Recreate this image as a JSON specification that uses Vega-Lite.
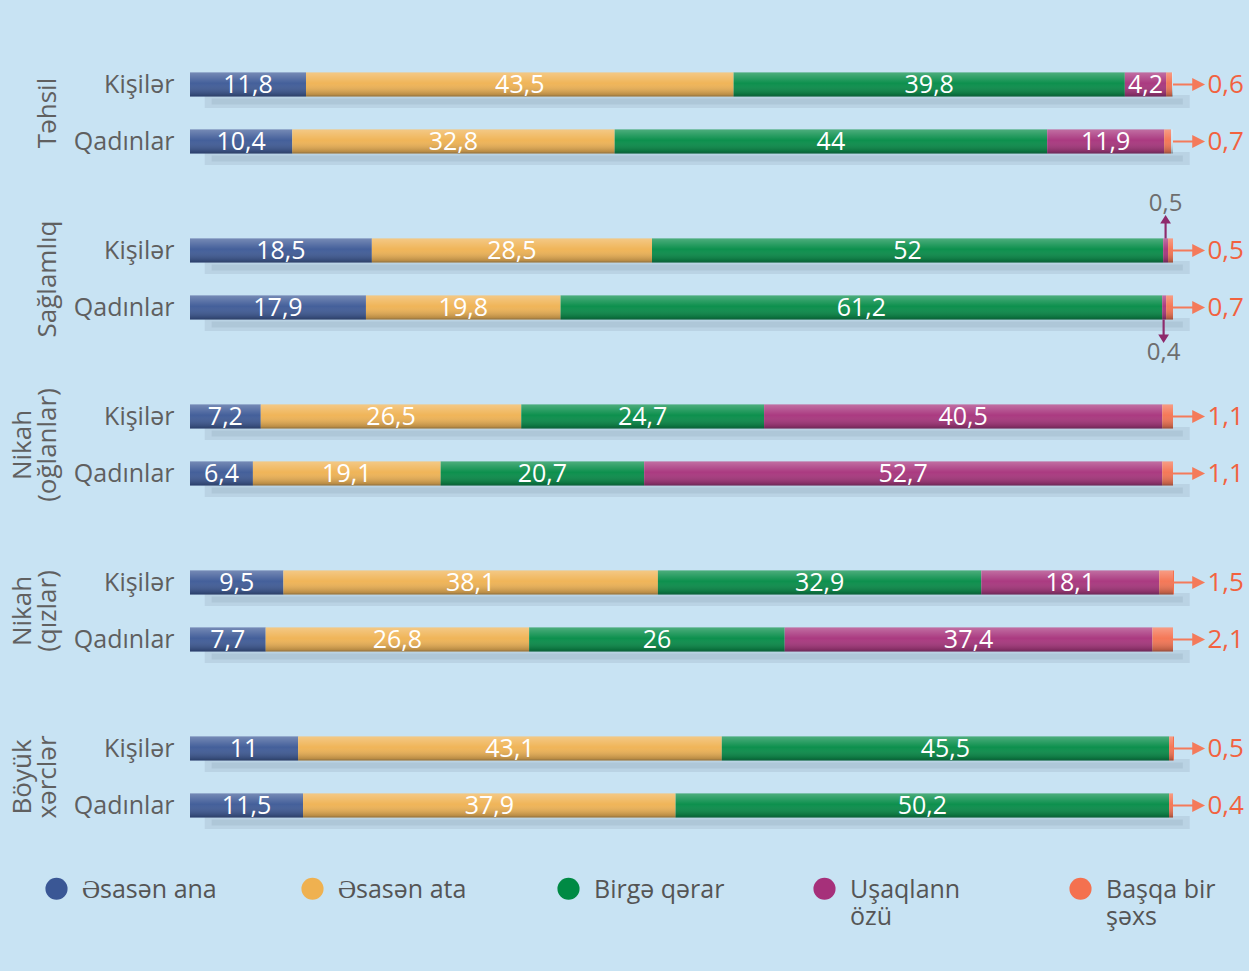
{
  "$schema": "https://vega.github.io/schema/vega-lite/v6.json",
  "background": "#c8e3f3",
  "padding": {"left": 10, "top": 56, "right": 8, "bottom": 52},
  "autosize": {"type": "pad"},
  "bounds": "flush",
  "config": {
    "locale": {"number": {"decimal": ",", "thousands": " ", "grouping": [3], "currency": ["", ""]}},
    "font": "Open Sans",
    "view": {"stroke": null}
  },
  "data": {"values": [
    {"group": "Təhsil", "gender": "Kişilər", "cat": "Əsasən ana", "value": 11.8},
    {"group": "Təhsil", "gender": "Kişilər", "cat": "Əsasən ata", "value": 43.5},
    {"group": "Təhsil", "gender": "Kişilər", "cat": "Birgə qərar", "value": 39.8},
    {"group": "Təhsil", "gender": "Kişilər", "cat": "Uşaqlann özü", "value": 4.2},
    {"group": "Təhsil", "gender": "Kişilər", "cat": "Başqa bir şəxs", "value": 0.6},
    {"group": "Təhsil", "gender": "Qadınlar", "cat": "Əsasən ana", "value": 10.4},
    {"group": "Təhsil", "gender": "Qadınlar", "cat": "Əsasən ata", "value": 32.8},
    {"group": "Təhsil", "gender": "Qadınlar", "cat": "Birgə qərar", "value": 44},
    {"group": "Təhsil", "gender": "Qadınlar", "cat": "Uşaqlann özü", "value": 11.9},
    {"group": "Təhsil", "gender": "Qadınlar", "cat": "Başqa bir şəxs", "value": 0.7},
    {"group": "Sağlamlıq", "gender": "Kişilər", "cat": "Əsasən ana", "value": 18.5},
    {"group": "Sağlamlıq", "gender": "Kişilər", "cat": "Əsasən ata", "value": 28.5},
    {"group": "Sağlamlıq", "gender": "Kişilər", "cat": "Birgə qərar", "value": 52},
    {"group": "Sağlamlıq", "gender": "Kişilər", "cat": "Uşaqlann özü", "value": 0.5},
    {"group": "Sağlamlıq", "gender": "Kişilər", "cat": "Başqa bir şəxs", "value": 0.5},
    {"group": "Sağlamlıq", "gender": "Qadınlar", "cat": "Əsasən ana", "value": 17.9},
    {"group": "Sağlamlıq", "gender": "Qadınlar", "cat": "Əsasən ata", "value": 19.8},
    {"group": "Sağlamlıq", "gender": "Qadınlar", "cat": "Birgə qərar", "value": 61.2},
    {"group": "Sağlamlıq", "gender": "Qadınlar", "cat": "Uşaqlann özü", "value": 0.4},
    {"group": "Sağlamlıq", "gender": "Qadınlar", "cat": "Başqa bir şəxs", "value": 0.7},
    {"group": "Nikah (oğlanlar)", "gender": "Kişilər", "cat": "Əsasən ana", "value": 7.2},
    {"group": "Nikah (oğlanlar)", "gender": "Kişilər", "cat": "Əsasən ata", "value": 26.5},
    {"group": "Nikah (oğlanlar)", "gender": "Kişilər", "cat": "Birgə qərar", "value": 24.7},
    {"group": "Nikah (oğlanlar)", "gender": "Kişilər", "cat": "Uşaqlann özü", "value": 40.5},
    {"group": "Nikah (oğlanlar)", "gender": "Kişilər", "cat": "Başqa bir şəxs", "value": 1.1},
    {"group": "Nikah (oğlanlar)", "gender": "Qadınlar", "cat": "Əsasən ana", "value": 6.4},
    {"group": "Nikah (oğlanlar)", "gender": "Qadınlar", "cat": "Əsasən ata", "value": 19.1},
    {"group": "Nikah (oğlanlar)", "gender": "Qadınlar", "cat": "Birgə qərar", "value": 20.7},
    {"group": "Nikah (oğlanlar)", "gender": "Qadınlar", "cat": "Uşaqlann özü", "value": 52.7},
    {"group": "Nikah (oğlanlar)", "gender": "Qadınlar", "cat": "Başqa bir şəxs", "value": 1.1},
    {"group": "Nikah (qızlar)", "gender": "Kişilər", "cat": "Əsasən ana", "value": 9.5},
    {"group": "Nikah (qızlar)", "gender": "Kişilər", "cat": "Əsasən ata", "value": 38.1},
    {"group": "Nikah (qızlar)", "gender": "Kişilər", "cat": "Birgə qərar", "value": 32.9},
    {"group": "Nikah (qızlar)", "gender": "Kişilər", "cat": "Uşaqlann özü", "value": 18.1},
    {"group": "Nikah (qızlar)", "gender": "Kişilər", "cat": "Başqa bir şəxs", "value": 1.5},
    {"group": "Nikah (qızlar)", "gender": "Qadınlar", "cat": "Əsasən ana", "value": 7.7},
    {"group": "Nikah (qızlar)", "gender": "Qadınlar", "cat": "Əsasən ata", "value": 26.8},
    {"group": "Nikah (qızlar)", "gender": "Qadınlar", "cat": "Birgə qərar", "value": 26},
    {"group": "Nikah (qızlar)", "gender": "Qadınlar", "cat": "Uşaqlann özü", "value": 37.4},
    {"group": "Nikah (qızlar)", "gender": "Qadınlar", "cat": "Başqa bir şəxs", "value": 2.1},
    {"group": "Böyük xərclər", "gender": "Kişilər", "cat": "Əsasən ana", "value": 11},
    {"group": "Böyük xərclər", "gender": "Kişilər", "cat": "Əsasən ata", "value": 43.1},
    {"group": "Böyük xərclər", "gender": "Kişilər", "cat": "Birgə qərar", "value": 45.5},
    {"group": "Böyük xərclər", "gender": "Kişilər", "cat": "Başqa bir şəxs", "value": 0.5},
    {"group": "Böyük xərclər", "gender": "Qadınlar", "cat": "Əsasən ana", "value": 11.5},
    {"group": "Böyük xərclər", "gender": "Qadınlar", "cat": "Əsasən ata", "value": 37.9},
    {"group": "Böyük xərclər", "gender": "Qadınlar", "cat": "Birgə qərar", "value": 50.2},
    {"group": "Böyük xərclər", "gender": "Qadınlar", "cat": "Başqa bir şəxs", "value": 0.4}
  ]},
  "transform": [
    {"calculate": "indexof(['Əsasən ana','Əsasən ata','Birgə qərar','Uşaqlann özü','Başqa bir şəxs'], datum.cat)", "as": "ord"}
  ],
  "facet": {
    "row": {
      "field": "group", "type": "nominal",
      "sort": ["Təhsil", "Sağlamlıq", "Nikah (oğlanlar)", "Nikah (qızlar)", "Böyük xərclər"],
      "header": {
        "title": null, "labelAngle": -90, "labelOrient": "left", "labelAlign": "center",
        "labelBaseline": "bottom", "labelFont": "Open Sans", "labelFontSize": 26,
        "labelColor": "#606060", "labelLineHeight": 25, "labelPadding": -14,
        "labelExpr": "split(datum.value, ' ')"
      }
    }
  },
  "spacing": 52,
  "spec": {
    "width": 983,
    "height": {"step": 57},
    "encoding": {
      "y": {
        "field": "gender", "type": "nominal", "sort": ["Kişilər", "Qadınlar"],
        "scale": {"paddingInner": 0, "paddingOuter": 0},
        "axis": {"title": null, "ticks": false, "domain": false, "labelFont": "Open Sans", "labelFontSize": 25, "labelColor": "#5f5f5f", "labelPadding": 16}
      }
    },
    "layer": [
      {
        "mark": {"type": "bar", "size": 24},
        "encoding": {
          "x": {"field": "value", "type": "quantitative", "stack": "zero", "scale": {"domain": [0, 100], "nice": false}, "axis": null},
          "color": {
            "field": "cat", "type": "nominal",
            "scale": {"domain": ["Əsasən ana", "Əsasən ata", "Birgə qərar", "Uşaqlann özü", "Başqa bir şəxs"],
                      "range": ["#3a5795", "#efb150", "#008a44", "#a6307a", "#f4714f"]},
            "legend": {
              "title": null, "orient": "none", "legendX": -146, "legendY": 820,
              "direction": "horizontal", "columns": 5, "gridAlign": "all", "columnPadding": 83,
              "symbolType": "circle", "symbolSize": 490, "symbolStrokeWidth": 0,
              "labelFont": "Open Sans", "labelFontSize": 25, "labelColor": "#555555",
              "labelOffset": 13, "labelLimit": 400, "labelBaseline": "alphabetic",
              "labelExpr": "datum.label == 'Uşaqlann özü' ? ['Uşaqlann', 'özü'] : datum.label == 'Başqa bir şəxs' ? ['Başqa bir', 'şəxs'] : [datum.label, '']",
              "encode": {"labels": {"update": {"dy": {"value": 9}}}}
            }
          },
          "order": {"field": "ord", "type": "quantitative"}
        }
      },
      {
        "transform": [{"filter": "datum.cat === 'Əsasən ana'"}],
        "mark": {"type": "rule", "strokeWidth": 13, "strokeCap": "butt", "color": "#5a7080", "opacity": 0.13},
        "encoding": {
          "x": {"datum": 1.5, "type": "quantitative"}, "x2": {"datum": 101.7},
          "y": {"field": "gender", "type": "nominal", "bandPosition": 0.8}
        }
      },
      {
        "transform": [{"filter": "datum.cat === 'Əsasən ana'"}],
        "mark": {"type": "rule", "strokeWidth": 6, "strokeCap": "butt", "color": "#5a7080", "opacity": 0.12},
        "encoding": {
          "x": {"datum": 2.2, "type": "quantitative"}, "x2": {"datum": 101},
          "y": {"field": "gender", "type": "nominal", "bandPosition": 0.8}
        }
      },
      {
        "transform": [{"filter": "datum.cat === 'Əsasən ana'"}],
        "mark": {"type": "bar", "size": 24, "fill": {"gradient": "linear", "x1": 0, "y1": 0, "x2": 0, "y2": 1,
          "stops": [{"offset": 0, "color": "rgba(255,255,255,0.3)"}, {"offset": 0.45, "color": "rgba(255,255,255,0.05)"}, {"offset": 1, "color": "rgba(0,0,0,0.3)"}]}},
        "encoding": {"x": {"datum": 0, "type": "quantitative"}, "x2": {"datum": 100}}
      },
      {
        "mark": {"type": "text", "color": "white", "fontSize": 25, "font": "Open Sans", "baseline": "middle", "align": "center"},
        "encoding": {
          "x": {"field": "value", "type": "quantitative", "stack": "zero", "bandPosition": 0.5},
          "detail": {"field": "cat"},
          "order": {"field": "ord", "type": "quantitative"},
          "text": {"field": "value", "type": "quantitative", "format": "~g",
                   "condition": {"test": "datum.cat === 'Başqa bir şəxs' || datum.value < 1", "value": ""}}
        }
      },
      {
        "transform": [{"filter": "datum.cat === 'Başqa bir şəxs'"}],
        "mark": {"type": "point", "filled": true, "opacity": 1, "size": 1024, "color": "#f47a5a",
                 "shape": "M-1,-0.07L0.2,-0.07L0.2,-0.4L1,0L0.2,0.4L0.2,0.07L-1,0.07Z"},
        "encoding": {"x": {"datum": 101.63, "type": "quantitative"}}
      },
      {
        "transform": [{"filter": "datum.cat === 'Başqa bir şəxs'"}],
        "mark": {"type": "text", "align": "left", "baseline": "middle", "fontSize": 26, "font": "Open Sans", "color": "#f2623f"},
        "encoding": {
          "x": {"datum": 103.5, "type": "quantitative"},
          "text": {"field": "value", "type": "quantitative", "format": "~g"}
        }
      },
      {
        "transform": [
          {"stack": "value", "groupby": ["group", "gender"], "sort": [{"field": "ord", "order": "ascending"}], "as": ["v0", "v1"]},
          {"filter": "datum.group === 'Sağlamlıq' && datum.cat === 'Uşaqlann özü'"}
        ],
        "mark": {"type": "point", "filled": true, "opacity": 1, "size": 576, "color": "#8e2a6c", "xOffset": -2.5},
        "encoding": {
          "x": {"field": "v1", "type": "quantitative"},
          "shape": {"field": "gender", "type": "nominal", "legend": null,
                    "scale": {"domain": ["Kişilər", "Qadınlar"],
                              "range": ["M-0.09,-1L-0.09,-2.25L-0.45,-2.25L0,-2.95L0.45,-2.25L0.09,-2.25L0.09,-1Z",
                                        "M-0.09,1L-0.09,2.25L-0.45,2.25L0,2.95L0.45,2.25L0.09,2.25L0.09,1Z"]}}
        }
      },
      {
        "transform": [
          {"stack": "value", "groupby": ["group", "gender"], "sort": [{"field": "ord", "order": "ascending"}], "as": ["v0", "v1"]},
          {"filter": "datum.group === 'Sağlamlıq' && datum.cat === 'Uşaqlann özü' && datum.gender === 'Kişilər'"}
        ],
        "mark": {"type": "text", "align": "center", "baseline": "middle", "fontSize": 24, "font": "Open Sans", "color": "#6e6e6e", "dy": -47, "xOffset": -2.5},
        "encoding": {
          "x": {"field": "v1", "type": "quantitative"},
          "text": {"field": "value", "type": "quantitative", "format": "~g"}
        }
      },
      {
        "transform": [
          {"stack": "value", "groupby": ["group", "gender"], "sort": [{"field": "ord", "order": "ascending"}], "as": ["v0", "v1"]},
          {"filter": "datum.group === 'Sağlamlıq' && datum.cat === 'Uşaqlann özü' && datum.gender === 'Qadınlar'"}
        ],
        "mark": {"type": "text", "align": "center", "baseline": "middle", "fontSize": 24, "font": "Open Sans", "color": "#6e6e6e", "dy": 45, "xOffset": -2.5},
        "encoding": {
          "x": {"field": "v1", "type": "quantitative"},
          "text": {"field": "value", "type": "quantitative", "format": "~g"}
        }
      }
    ]
  }
}
